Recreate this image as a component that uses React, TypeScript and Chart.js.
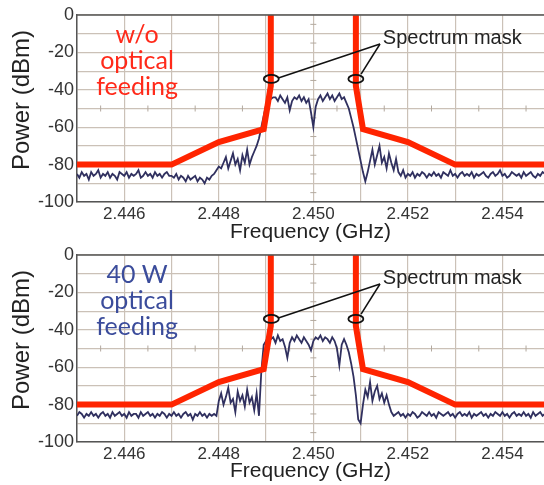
import React, { useEffect, useRef } from "react";
import { Chart, registerables } from "chart.js";
Chart.register(...registerables);

// ---------- data ----------
const FREQ_START = 2.445; // GHz, first sample of the traces
const FREQ_STEP = 0.00005; // GHz between samples
const FREQ_MIN = 2.445;
const FREQ_MAX = 2.45488;

const xTickValues = [2.445, 2.446, 2.447, 2.448, 2.449, 2.45, 2.451, 2.452, 2.453, 2.454];
const xTickLabels = ["", "2.446", "", "2.448", "", "2.450", "", "2.452", "", "2.454"];
const yTickValues = [-100, -90, -80, -70, -60, -50, -40, -30, -20, -10, 0];
const yTickLabels = ["-100", "", "-80", "", "-60", "", "-40", "", "-20", "", "0"];

const maskFreq = [2.445, 2.447, 2.448, 2.44895, 2.4491, 2.4491, 2.45, 2.4509, 2.4509, 2.45105, 2.452, 2.453, 2.455];
const maskPower: (number | null)[] = [-80, -80, -68, -61, -38, 0, null, 0, -38, -61, -68, -80, -80];

const powerNoFeeding = [
  -85, -87, -84, -86, -85, -88, -84, -86, -85, -83,
  -87, -85, -86, -84, -87, -85, -86, -88, -84, -85,
  -86, -84, -87, -85, -86, -85, -83, -87, -86, -84,
  -86, -85, -87, -84, -86, -85, -87, -85, -84, -86,
  -86, -87, -85, -88, -86, -87, -89, -86, -88, -87,
  -86, -89, -87, -88, -90, -87, -88, -86, -85, -83,
  -81, -82, -79, -76, -82, -78, -74, -80, -77, -83,
  -75, -79, -72, -80, -76, -73, -70, -66, -60, -54,
  -48, -46, -45, -44, -44, -46, -43, -45, -47, -44,
  -51, -46, -44, -45, -43, -46, -44, -47, -45, -52,
  -60, -49, -45, -43, -46, -44, -42, -45, -43, -46,
  -44, -42, -45, -44, -47, -50, -55, -60, -66, -72,
  -78, -84, -89, -84, -78, -72, -80, -75, -70, -79,
  -76, -82, -74, -79, -83, -77, -84, -86, -83, -87,
  -85, -86, -84, -87, -85, -86, -84, -85, -87, -85,
  -86, -84, -86, -85, -87, -84, -85, -86, -83, -86,
  -85, -87, -85, -84, -86, -85, -86, -84, -87, -85,
  -86, -85, -84, -86, -87, -85, -84, -86, -85, -83,
  -86, -85, -87, -86, -84, -85, -86, -85, -87, -84,
  -86, -85, -84, -86, -87, -85, -86, -84, -85, -86,
  -85,
];

const powerFeeding40W = [
  -86, -84, -85, -87, -85, -86, -84, -86, -85, -87,
  -85, -84, -86, -85, -87, -84, -86, -85, -84, -86,
  -85, -87, -84, -86, -85, -85, -87, -84, -86, -85,
  -84, -86, -85, -87, -85, -86, -84, -85, -87, -85,
  -86, -84, -86, -85, -87, -85, -84, -86, -85, -88,
  -85, -86, -84, -86, -85, -87, -85, -86, -85, -86,
  -78, -74, -80, -76, -71, -79, -77, -84, -73, -78,
  -75, -81, -72, -79, -76, -83, -74, -86, -62, -48,
  -46, -43, -45, -44, -47, -43, -46, -45, -49, -55,
  -47, -44, -46, -43, -45, -47, -44, -46, -48, -51,
  -46, -44, -45, -43, -46, -44, -45, -47, -44, -46,
  -50, -59, -48, -45, -48, -52, -58, -65, -75, -88,
  -90, -80, -72, -76, -68, -78, -73, -70, -77, -74,
  -79, -75, -80, -84, -86, -85, -84, -86, -85, -87,
  -85, -86, -84, -85, -87, -86, -84, -85, -86, -84,
  -86, -85, -87, -84, -85, -86, -85, -84, -86, -85,
  -87, -85, -84, -86, -85, -86, -84, -87, -85, -86,
  -85, -84, -86, -85, -87, -85, -86, -84, -85, -86,
  -84, -86, -85, -87, -85, -84, -86, -85, -86, -84,
  -86, -85, -87, -84, -86, -85, -84, -86, -85, -87,
  -85,
];

const labelNoFeeding = ["w/o", "optical", "feeding"];
const label40W = ["40 W", "optical", "feeding"];
const maskText = "Spectrum mask";
const xTitle = "Frequency (GHz)";
const yTitle = "Power (dBm)";

// annotation anchors (data coordinates)
const panelLabelFreq = 2.44627;
const panelLabelPowers = [-14.8, -28.7, -42.8];
const maskTextFreq = 2.45147;
const maskTextPower = -12.8;
const leaderFrom = [2.45141, -15.5];
const leaderTo = [[2.44926, -33.7], [2.45101, -31.6]];
const ringFreqs = [2.44911, 2.4509];
const ringPower = -34.2;

// ---------- styles ----------
const SANS = '"Liberation Sans", Arial, Helvetica, sans-serif';
const LABEL_FONT = 'Lato, "Open Sans", sans-serif';
const GRID = "#cbc1b7";
const MASK_RED = "#ff2400";
const TRACE = "#30305f";

const overlayPlugin = {
  id: "overlay",
  beforeDatasetsDraw(chart: any) {
    const { ctx, chartArea, scales } = chart;
    const x = scales.x, y = scales.y;
    ctx.save();
    ctx.beginPath();
    ctx.rect(chartArea.left, chartArea.top, chartArea.right - chartArea.left, chartArea.bottom - chartArea.top);
    ctx.clip();
    ctx.strokeStyle = "#b3a99f";
    ctx.lineWidth = 1;
    const yMid = y.getPixelForValue(-50);
    for (let k = 0; k < 10; k++) {
      const px = x.getPixelForValue(2.4455 + k * 0.001);
      ctx.beginPath();
      ctx.moveTo(px, yMid - 3);
      ctx.lineTo(px, yMid + 3);
      ctx.stroke();
    }
    const xMid = x.getPixelForValue(2.45);
    for (let k = 0; k < 10; k++) {
      const py = y.getPixelForValue(-5 - k * 10);
      ctx.beginPath();
      ctx.moveTo(xMid - 3, py);
      ctx.lineTo(xMid + 3, py);
      ctx.stroke();
    }
    ctx.restore();
  },
  afterDatasetsDraw(chart: any, _args: any, opts: any) {
    const { ctx, chartArea, scales } = chart;
    const x = scales.x, y = scales.y;
    ctx.save();
    // top frame line
    ctx.strokeStyle = "#555";
    ctx.lineWidth = 1.5;
    ctx.beginPath();
    ctx.moveTo(chartArea.left, chartArea.top);
    ctx.lineTo(chartArea.right, chartArea.top);
    ctx.stroke();

    // panel label
    ctx.fillStyle = opts.labelColor;
    ctx.font = `25px ${LABEL_FONT}`;
    ctx.textAlign = "center";
    ctx.textBaseline = "alphabetic";
    (opts.lines as string[]).forEach((t, i) => {
      ctx.fillText(t, x.getPixelForValue(panelLabelFreq), y.getPixelForValue(panelLabelPowers[i]));
    });

    // rings
    ctx.strokeStyle = "#111";
    ctx.lineWidth = 1.8;
    ringFreqs.forEach((f) => {
      ctx.beginPath();
      ctx.ellipse(x.getPixelForValue(f), y.getPixelForValue(ringPower), 7.5, 4, 0, 0, Math.PI * 2);
      ctx.stroke();
    });
    // leaders
    ctx.lineWidth = 1.5;
    leaderTo.forEach((p) => {
      ctx.beginPath();
      ctx.moveTo(x.getPixelForValue(leaderFrom[0]), y.getPixelForValue(leaderFrom[1]));
      ctx.lineTo(x.getPixelForValue(p[0]), y.getPixelForValue(p[1]));
      ctx.stroke();
    });
    // mask text
    ctx.fillStyle = "#222";
    ctx.font = `20px ${SANS}`;
    ctx.textAlign = "left";
    ctx.textBaseline = "middle";
    ctx.fillText(maskText, x.getPixelForValue(maskTextFreq), y.getPixelForValue(maskTextPower));

    // y title
    ctx.save();
    ctx.translate(22, chartArea.top + 85);
    ctx.rotate(-Math.PI / 2);
    ctx.font = `24px ${SANS}`;
    ctx.fillStyle = "#222";
    ctx.textAlign = "center";
    ctx.textBaseline = "middle";
    ctx.fillText(yTitle, 0, 0);
    ctx.restore();

    ctx.restore();
  },
};

type PanelProps = {
  top: number;
  height: number;
  axisHeight: number;
  titlePad: number;
  power: number[];
  lines: string[];
  labelColor: string;
};

function SpectrumPanel({ top, height, axisHeight, titlePad, power, lines, labelColor }: PanelProps) {
  const ref = useRef<HTMLCanvasElement | null>(null);
  useEffect(() => {
    if (!ref.current) return;
    const trace = power.map((p, i) => ({ x: FREQ_START + i * FREQ_STEP, y: p }));
    const mask = maskFreq.map((f, i) => ({ x: f, y: maskPower[i] }));
    const chart = new Chart(ref.current, {
      type: "line",
      data: {
        datasets: [
          {
            data: mask as any,
            borderColor: MASK_RED,
            borderWidth: 6,
            pointRadius: 0,
            spanGaps: false,
            clip: 0,
            borderJoinStyle: "miter",
          } as any,
          {
            data: trace,
            borderColor: TRACE,
            borderWidth: 1.8,
            pointRadius: 0,
            clip: 0,
          } as any,
        ],
      },
      options: {
        animation: false,
        responsive: false,
        events: [],
        layout: { padding: { top: 15, left: 0, right: 0, bottom: 0 } },
        plugins: {
          legend: { display: false },
          tooltip: { enabled: false },
          overlay: { lines, labelColor },
        } as any,
        scales: {
          x: {
            type: "linear",
            min: FREQ_MIN,
            max: FREQ_MAX,
            afterBuildTicks: (s: any) => {
              s.ticks = xTickValues.map((v) => ({ value: v }));
            },
            afterFit: (s: any) => {
              s.height = axisHeight;
            },
            ticks: {
              autoSkip: false,
              maxRotation: 0,
              padding: 2,
              color: "#333",
              font: { family: SANS, size: 17 },
              callback: (_v: any, i: number) => xTickLabels[i],
            },
            grid: { color: GRID, lineWidth: 1.2, drawTicks: false },
            border: { color: "#555", width: 1.5 },
            title: {
              display: true,
              text: xTitle,
              color: "#222",
              font: { family: SANS, size: 21 },
              padding: { top: 0, bottom: titlePad },
            },
          },
          y: {
            type: "linear",
            min: -100,
            max: 0,
            afterBuildTicks: (s: any) => {
              s.ticks = yTickValues.map((v) => ({ value: v }));
            },
            afterFit: (s: any) => {
              s.width = 77;
            },
            ticks: {
              autoSkip: false,
              padding: 3,
              color: "#333",
              font: { family: SANS, size: 18 },
              callback: (_v: any, i: number) => yTickLabels[i],
            },
            grid: { color: GRID, lineWidth: 1.2, drawTicks: false },
            border: { color: "#555", width: 1.5 },
          },
        },
      } as any,
      plugins: [overlayPlugin],
    });
    return () => chart.destroy();
  }, []);
  return (
    <canvas
      ref={ref}
      width={544}
      height={height}
      style={{ position: "absolute", left: 0, top, width: 544, height }}
    />
  );
}

export default function App() {
  return (
    <div style={{ position: "fixed", left: 0, top: 0, width: 544, height: 485, background: "#fff", overflow: "hidden" }}>
      <SpectrumPanel top={0} height={250} axisHeight={48} titlePad={5} power={powerNoFeeding} lines={labelNoFeeding} labelColor="#ff2a1a" />
      <SpectrumPanel top={240} height={245} axisHeight={43} titlePad={1} power={powerFeeding40W} lines={label40W} labelColor="#3b4c9b" />
    </div>
  );
}
